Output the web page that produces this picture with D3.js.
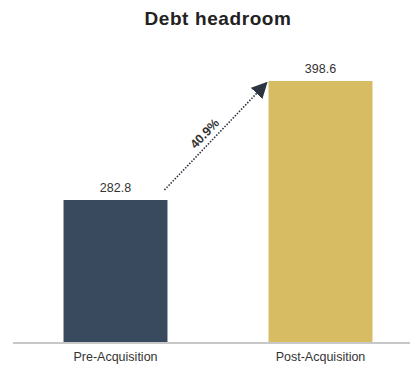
<!DOCTYPE html>
<html><head><meta charset="utf-8">
<script src="https://cdn.jsdelivr.net/npm/d3@7"></script>
<style>body{margin:0;background:#fff}svg{display:block}</style>
</head><body><svg id="c" width="410" height="367"></svg>
<script>
const categories = ["Pre-Acquisition", "Post-Acquisition"];
const values = [282.8, 398.6];
const valueLabels = ["282.8", "398.6"];
const changeLabel = "40.9%";
const title = "Debt headroom";
const colors = ["#3a4a5e", "#d7bc64"];

const svg = d3.select("#c");
const W = 410, H = 367;
const x = d3.scaleBand().domain(categories).range([13, 423]).paddingInner(0.493).paddingOuter(0.2465);
const y = d3.scaleLinear().domain([144.6, 398.6]).range([342, 81]);

svg.append("text").attr("x", 218).attr("y", 25).attr("text-anchor", "middle")
  .attr("font-family", "Liberation Sans, Arial, sans-serif").attr("font-weight", "bold")
  .attr("font-size", 19).attr("fill", "#222").attr("letter-spacing", 0.6).text(title);

svg.selectAll("rect.bar").data(values).enter().append("rect").attr("class", "bar")
  .attr("x", (d, i) => x(categories[i])).attr("width", x.bandwidth())
  .attr("y", d => y(d)).attr("height", d => y.range()[0] - y(d))
  .attr("fill", (d, i) => colors[i]);

svg.selectAll("text.val").data(values).enter().append("text").attr("class", "val")
  .attr("x", (d, i) => x(categories[i]) + x.bandwidth() / 2).attr("y", d => y(d) - 8)
  .attr("text-anchor", "middle").attr("font-family", "Liberation Sans, Arial, sans-serif")
  .attr("font-size", 12.5).attr("fill", "#333").text((d, i) => valueLabels[i]);

// axis
const xAxis = svg.append("g").attr("transform", `translate(0,${y.range()[0] + 1})`)
  .call(d3.axisBottom(x).tickSize(0).tickPadding(9));
xAxis.select(".domain").attr("d", `M13,0H${W}`).attr("stroke", "#c8c8c8").attr("stroke-width", 2);
xAxis.selectAll("text").attr("font-family", "Liberation Sans, Arial, sans-serif")
  .attr("font-size", 12.5).attr("fill", "#333");

// arrow
const defs = svg.append("defs");
defs.append("marker").attr("id", "ah").attr("viewBox", "0 0 10 10").attr("refX", 9).attr("refY", 5)
  .attr("markerWidth", 16).attr("markerHeight", 16).attr("markerUnits", "userSpaceOnUse")
  .attr("orient", "auto").append("path").attr("d", "M0,0L10,5L0,10Z").attr("fill", "#2b3542");

const x0 = x(categories[0]) + x.bandwidth() - 3, y0 = y(values[0]) - 10;
const x1 = x(categories[1]) - 2, y1 = y(values[1]) + 2;
svg.append("line").attr("x1", x0).attr("y1", y0).attr("x2", x1).attr("y2", y1)
  .attr("stroke", "#2b3542").attr("stroke-width", 1.6).attr("stroke-dasharray", "1.5,1.5")
  .attr("marker-end", "url(#ah)");

const ang = Math.atan2(y1 - y0, x1 - x0) * 180 / Math.PI;
const mx = (x0 + x1) / 2 - 11, my = (y0 + y1) / 2 - 3;
svg.append("text").attr("transform", `translate(${mx},${my}) rotate(${ang})`)
  .attr("text-anchor", "middle").attr("dy", "0.35em")
  .attr("font-family", "Liberation Sans, Arial, sans-serif").attr("font-weight", "bold")
  .attr("font-size", 12.5).attr("fill", "#333").text(changeLabel);
</script></body></html>
